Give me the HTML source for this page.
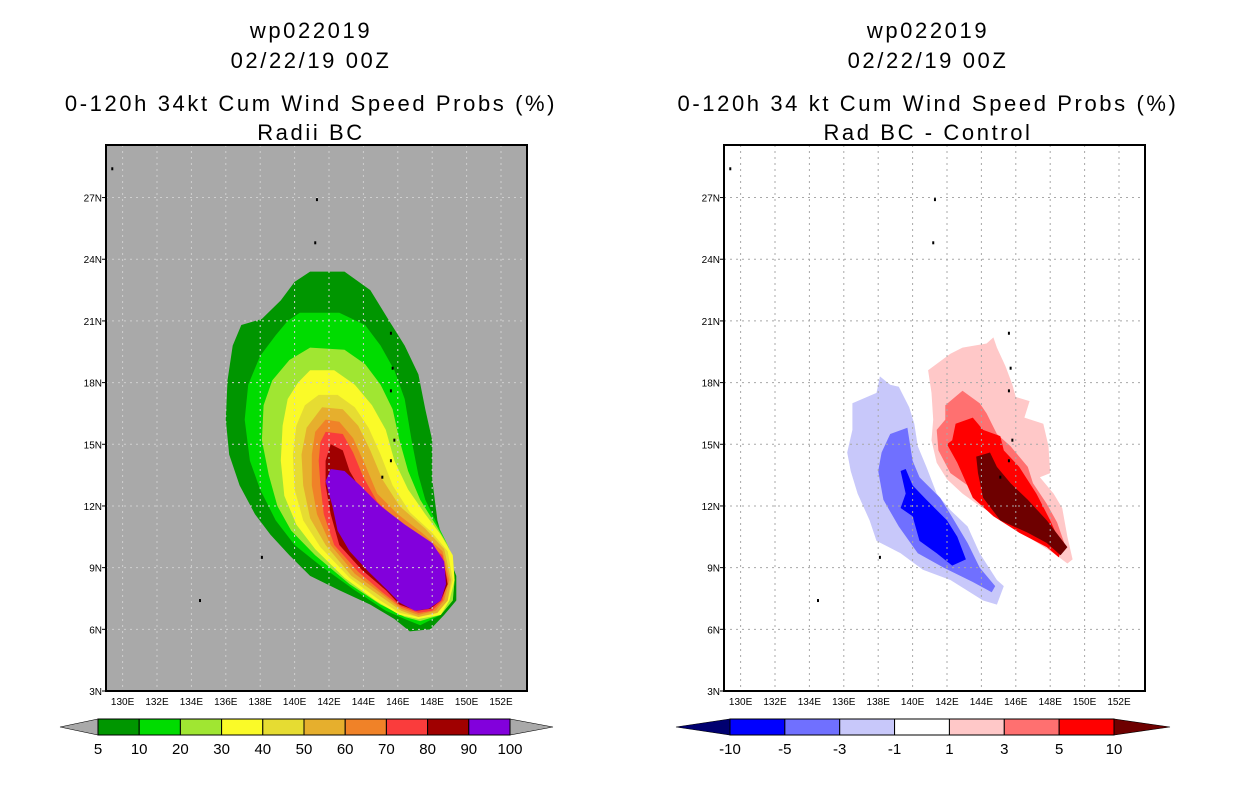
<!DOCTYPE html>
<html><head><meta charset="utf-8">
<style>
html,body{margin:0;padding:0;background:#fff;}
svg text{font-family:"Liberation Sans",sans-serif;fill:#000;}
.ttl text{letter-spacing:2.6px;}
</style></head>
<body>
<svg id="root" width="1236" height="800" viewBox="0 0 1236 800" xmlns="http://www.w3.org/2000/svg">
<g class="ttl" font-size="22" text-anchor="middle">
<text x="311" y="38">wp022019</text>
<text x="311" y="68">02/22/19 00Z</text>
<text x="311" y="111">0-120h 34kt Cum Wind Speed Probs (%)</text>
<text x="311" y="140">Radii BC</text>
</g>
<g class="ttl" font-size="22" text-anchor="middle">
<text x="928" y="38">wp022019</text>
<text x="928" y="68">02/22/19 00Z</text>
<text x="928" y="111">0-120h 34 kt Cum Wind Speed Probs (%)</text>
<text x="928" y="140">Rad BC - Control</text>
</g>
<g id="leftMap"></g>
<g id="rightMap"></g>
<g id="leftBar"></g>
<g id="rightBar"></g>
</svg>
<script>
// ---- data ----
const lonTicks = [130,132,134,136,138,140,142,144,146,148,150,152];
const latTicks = [3,6,9,12,15,18,21,24,27];
const probLevels = ["5","10","20","30","40","50","60","70","80","90","100"];
const probColors = ["#009600","#00dc00","#a0e632","#fafa28","#e6dc32","#e6af2d","#f08228","#fa3c3c","#a00000","#8200dc"];
const diffLevels = ["-10","-5","-3","-1","1","3","5","10"];
const diffColors = ["#0000ff","#7070ff","#c8c8fa","#ffffff","#ffc8c8","#ff7070","#ff0000"];
const diffEnds = ["#000070","#6e0000"];
const prob5 = [[140.9,23.4],[142.9,23.4],[144.4,22.5],[145.5,21.0],[146.4,19.8],[147.2,18.4],[147.6,16.7],[148.0,15.2],[148.0,13.3],[148.3,11.3],[148.7,10.1],[149.4,8.6],[149.4,7.4],[148.7,6.7],[147.9,6.0],[146.7,5.9],[145.8,6.5],[144.4,7.2],[142.6,7.9],[140.9,8.6],[139.7,9.6],[138.6,10.6],[137.7,11.6],[136.8,13.0],[136.2,14.5],[136.0,16.2],[136.1,18.1],[136.4,19.8],[136.9,20.8],[138.1,21.1],[139.2,22.0],[140.0,22.9]];
const prob10 = [[140.3,21.4],[142.6,21.4],[144.1,20.8],[145.0,19.8],[145.8,18.6],[146.4,17.2],[146.8,15.2],[147.2,13.5],[147.6,12.3],[148.3,11.1],[148.9,10.1],[149.2,9.4],[149.3,8.4],[149.2,7.4],[148.5,6.7],[147.3,6.2],[146.4,6.5],[145.3,6.9],[143.5,7.9],[141.5,9.1],[140.0,10.1],[138.9,11.3],[138.0,12.8],[137.4,14.2],[137.1,16.2],[137.3,17.9],[138.0,19.3],[138.9,20.3],[139.6,21.0]];
const prob20 = [[140.9,19.7],[142.9,19.6],[144.1,18.9],[145.0,17.9],[145.7,16.7],[146.1,15.2],[146.6,13.7],[147.3,12.3],[148.2,11.1],[148.9,10.1],[149.2,9.4],[149.3,8.4],[149.2,7.4],[148.5,6.7],[147.3,6.4],[146.4,6.6],[145.0,7.2],[143.2,8.2],[141.2,9.6],[139.8,10.8],[139.0,12.0],[138.5,13.5],[138.1,15.2],[138.2,16.9],[138.7,18.1],[139.7,19.1]];
const prob30 = [[140.9,18.6],[142.3,18.6],[143.5,17.9],[144.5,16.9],[145.3,15.7],[145.8,14.2],[146.6,12.8],[147.6,11.6],[148.5,10.6],[149.2,9.6],[149.3,8.4],[149.0,7.4],[148.5,6.7],[147.2,6.5],[146.1,6.7],[144.7,7.4],[142.9,8.5],[141.2,9.9],[140.1,11.1],[139.4,12.5],[139.2,14.2],[139.3,15.9],[139.6,17.2],[140.2,18.0]];
const prob40 = [[141.4,17.4],[142.5,17.4],[143.5,16.8],[144.3,15.8],[145.0,14.5],[145.7,13.0],[146.7,11.7],[148.0,10.7],[148.9,9.8],[149.2,8.4],[148.9,7.4],[148.3,6.8],[147.2,6.6],[146.1,6.8],[144.8,7.5],[143.2,8.5],[141.5,10.0],[140.5,11.3],[140.0,12.8],[139.9,14.5],[140.1,15.9],[140.6,16.9]];
const prob50 = [[141.6,16.8],[142.8,16.7],[143.7,15.9],[144.4,14.7],[145.1,13.3],[146.1,12.0],[147.6,10.9],[148.7,9.9],[149.1,8.4],[148.9,7.4],[148.3,6.8],[147.2,6.6],[146.2,6.9],[145.0,7.6],[143.3,8.6],[141.8,10.1],[140.9,11.4],[140.5,13.0],[140.4,14.5],[140.7,15.8]];
const prob60 = [[141.8,16.2],[142.6,16.1],[143.4,15.3],[144.1,14.0],[144.8,12.6],[146.0,11.6],[147.4,10.7],[148.6,9.8],[149.0,8.4],[148.7,7.4],[148.2,6.9],[147.2,6.7],[146.2,7.0],[145.1,7.7],[143.5,8.7],[142.1,10.1],[141.3,11.6],[141.0,13.0],[141.0,14.5],[141.2,15.6]];
const prob70 = [[141.8,15.6],[142.8,15.5],[143.4,14.6],[144.0,13.4],[144.8,12.2],[146.1,11.2],[147.6,10.3],[148.6,9.6],[148.9,8.4],[148.6,7.4],[148.0,6.9],[147.2,6.8],[146.2,7.1],[145.1,7.8],[143.7,8.8],[142.3,10.1],[141.7,11.6],[141.5,13.0],[141.4,14.2],[141.5,15.1]];
const prob80 = [[142.1,15.0],[142.8,14.7],[143.2,13.7],[143.9,12.7],[145.0,11.6],[146.4,10.7],[147.9,10.0],[148.7,9.1],[148.9,8.2],[148.5,7.4],[147.9,7.0],[147.1,6.9],[146.1,7.2],[145.3,7.9],[143.9,8.9],[142.6,10.1],[142.1,11.6],[141.8,13.0],[141.8,14.2]];
const prob90 = [[142.1,13.8],[142.9,13.7],[143.8,13.0],[145.0,12.0],[146.4,11.1],[148.0,10.2],[148.7,9.3],[148.8,8.2],[148.5,7.4],[147.8,7.0],[147.0,6.9],[146.1,7.3],[145.4,7.9],[144.3,8.8],[143.2,9.8],[142.5,10.8],[142.2,12.0],[141.8,13.2]];
const diffM1 = [[136.5,17.0],[137.9,17.5],[138.1,18.3],[138.7,17.9],[139.2,17.8],[139.8,16.8],[140.1,16.0],[140.3,14.9],[140.8,13.9],[141.4,12.6],[142.2,11.8],[143.2,11.0],[143.9,9.7],[144.9,8.4],[145.3,8.1],[144.9,7.2],[144.1,7.4],[142.2,8.4],[140.6,8.9],[139.3,9.7],[137.9,10.3],[137.5,11.3],[136.8,12.6],[136.4,13.7],[136.2,14.6],[136.5,15.7]];
const diffM3 = [[138.7,15.5],[139.7,15.8],[140.0,14.2],[140.4,13.4],[141.6,12.4],[142.2,11.6],[143.2,10.2],[143.9,9.0],[144.8,8.1],[144.6,7.8],[143.5,8.3],[141.8,9.0],[140.3,9.7],[139.2,11.0],[138.3,12.3],[138.0,13.7],[138.2,14.6]];
const diffM5 = [[139.3,13.7],[139.6,13.8],[140.0,13.0],[140.8,12.3],[142.0,11.3],[142.6,10.5],[143.1,9.4],[142.3,9.1],[141.4,9.7],[140.4,10.3],[140.0,11.5],[139.3,11.9],[139.6,12.6]];
const diffP1 = [[140.9,18.6],[142.2,19.4],[142.9,19.7],[144.3,19.9],[144.7,20.2],[144.9,19.7],[145.4,18.8],[145.8,17.9],[146.0,17.3],[146.8,17.1],[146.5,16.3],[147.6,16.0],[147.9,14.9],[148.0,13.6],[147.4,13.4],[148.2,12.6],[148.7,11.9],[149.0,10.5],[149.3,9.4],[149.0,9.2],[148.2,9.7],[146.7,10.5],[145.5,11.2],[143.9,12.0],[142.9,12.6],[142.0,13.3],[141.4,14.1],[141.1,15.2],[141.2,16.2],[141.1,17.5]];
const diffP3 = [[141.9,16.9],[142.9,17.6],[143.9,17.0],[144.3,16.5],[144.9,15.5],[145.7,14.9],[146.7,13.9],[147.0,13.1],[147.8,12.1],[148.4,11.2],[148.9,10.0],[148.6,9.7],[147.4,10.5],[145.8,11.2],[144.3,12.1],[143.2,13.0],[142.2,13.6],[141.5,14.7],[141.4,15.7],[141.9,16.2]];
const diffP5 = [[142.5,16.0],[143.5,16.3],[144.1,15.7],[145.1,15.4],[145.3,14.7],[146.2,13.9],[147.2,12.6],[148.0,11.3],[148.7,10.0],[148.5,9.5],[147.8,10.0],[146.2,10.7],[144.7,11.5],[143.5,12.4],[142.6,14.1],[142.0,15.0],[142.3,15.2]];
const diffP10 = [[143.7,14.4],[144.5,14.6],[144.9,13.9],[145.7,13.1],[146.7,12.3],[147.8,11.3],[149.0,10.0],[148.6,9.6],[147.8,10.2],[146.7,10.7],[145.1,11.3],[144.1,12.4],[143.8,13.6]];
const islands = [[129.4,28.4],[141.3,26.9],[141.2,24.8],[145.6,20.4],[145.7,18.7],[145.6,17.6],[145.8,15.2],[145.6,14.2],[145.1,13.4],[138.1,9.5],[134.5,7.4]];

const NS='http://www.w3.org/2000/svg';
function mk(tag, attrs, parent){const e=document.createElementNS(NS,tag);for(const k in attrs)e.setAttribute(k,attrs[k]);parent.appendChild(e);return e;}

const PX_PER_LON=17.2, PX_PER_LAT=20.56;
function makeAxes(x142){
  return {x: lon => x142 + (lon-142)*PX_PER_LON, y: lat => 691 - (lat-3)*PX_PER_LAT};
}
function poly(pts, ax){return pts.map(p=>ax.x(p[0]).toFixed(1)+','+ax.y(p[1]).toFixed(1)).join(' ');}

function drawMap(g, x0, x142, bg, gridColor, layers){
  const ax = makeAxes(x142);
  const W=421, top=145, bot=691;
  const clipId='clip'+x0;
  const defs=mk('defs',{},g);
  const cp=mk('clipPath',{id:clipId},defs);
  mk('rect',{x:x0,y:top,width:W,height:bot-top},cp);
  const bgr=mk('rect',{x:x0,y:top,width:W,height:bot-top,fill:bg},g);
  
  
  const cg=mk('g',{'clip-path':'url(#'+clipId+')'},g);
  layers.forEach(l=>{
    const p=mk('polygon',{points:poly(l.pts,ax),fill:l.color},cg);
    
    
  });
  islands.forEach(c=>{
    const r=mk('rect',{x:ax.x(c[0])-1,y:ax.y(c[1])-1.5,width:2,height:3,fill:'#000'},cg);
    
    
  });
  lonTicks.forEach(l=>{
    const x=ax.x(l);
    const ln=mk('line',{x1:x,x2:x,y1:top,y2:bot,stroke:gridColor,'stroke-width':1,'stroke-dasharray':'2,4'},cg);
    
    
    const t=mk('text',{x:x,y:705,'font-size':10,'text-anchor':'middle'},g);
    t.textContent=l+'E';
    
    
  });
  latTicks.forEach(l=>{
    const y=ax.y(l);
    const ln=mk('line',{x1:x0,x2:x0+W,y1:y,y2:y,stroke:gridColor,'stroke-width':1,'stroke-dasharray':'2,4'},cg);
    
    
    mk('line',{x1:x0-4,x2:x0,y1:y,y2:y,stroke:'#000','stroke-width':1},g);
    const t=mk('text',{x:x0-4,y:y+4,'font-size':10,'text-anchor':'end'},g);
    t.textContent=l+'N';
    
    
  });
  const fr=mk('rect',{x:x0,y:top,width:W,height:bot-top,fill:'none',stroke:'#000','stroke-width':2},g);
  
  
}

drawMap(document.getElementById('leftMap'),106,329,'#a9a9a9','#cfcfcf',[
 {pts:prob5,color:probColors[0],name:'prob-5-10'},
 {pts:prob10,color:probColors[1],name:'prob-10-20'},
 {pts:prob20,color:probColors[2],name:'prob-20-30'},
 {pts:prob30,color:probColors[3],name:'prob-30-40'},
 {pts:prob40,color:probColors[4],name:'prob-40-50'},
 {pts:prob50,color:probColors[5],name:'prob-50-60'},
 {pts:prob60,color:probColors[6],name:'prob-60-70'},
 {pts:prob70,color:probColors[7],name:'prob-70-80'},
 {pts:prob80,color:probColors[8],name:'prob-80-90'},
 {pts:prob90,color:probColors[9],name:'prob-90-100'}
]);
drawMap(document.getElementById('rightMap'),724,947,'#ffffff','#a8a8a8',[
 {pts:diffM1,color:diffColors[2],name:'diff-minus1-minus3'},
 {pts:diffM3,color:diffColors[1],name:'diff-minus3-minus5'},
 {pts:diffM5,color:diffColors[0],name:'diff-minus5-minus10'},
 {pts:diffP1,color:diffColors[4],name:'diff-1-3'},
 {pts:diffP3,color:diffColors[5],name:'diff-3-5'},
 {pts:diffP5,color:diffColors[6],name:'diff-5-10'},
 {pts:diffP10,color:diffEnds[1],name:'diff-above-10'}
]);

function drawBar(g, x0, x1, tipL, tipR, colors, labels, endL, endR){
  const y0=719,y1=735,n=colors.length,w=(x1-x0)/n;
  const tl=mk('polygon',{points:`${x0},${y0} ${x0},${y1} ${tipL},${(y0+y1)/2}`,fill:endL,stroke:'#000','stroke-width':0.6},g);
  
  
  const tr=mk('polygon',{points:`${x1},${y0} ${x1},${y1} ${tipR},${(y0+y1)/2}`,fill:endR,stroke:'#000','stroke-width':0.6},g);
  
  
  colors.forEach((c,i)=>{
    const r=mk('rect',{x:x0+i*w,y:y0,width:w,height:y1-y0,fill:c,stroke:'#000','stroke-width':1},g);
    
    
  });
  labels.forEach((l,i)=>{
    const t=mk('text',{x:x0+i*w,y:754,'font-size':15,'text-anchor':'middle'},g);
    t.textContent=l;
    
    
  });
}
drawBar(document.getElementById('leftBar'),98,510,60,553,probColors,probLevels,'#a9a9a9','#a9a9a9');
drawBar(document.getElementById('rightBar'),730,1114,676,1170,diffColors,diffLevels,diffEnds[0],diffEnds[1]);
</script>
</body></html>
